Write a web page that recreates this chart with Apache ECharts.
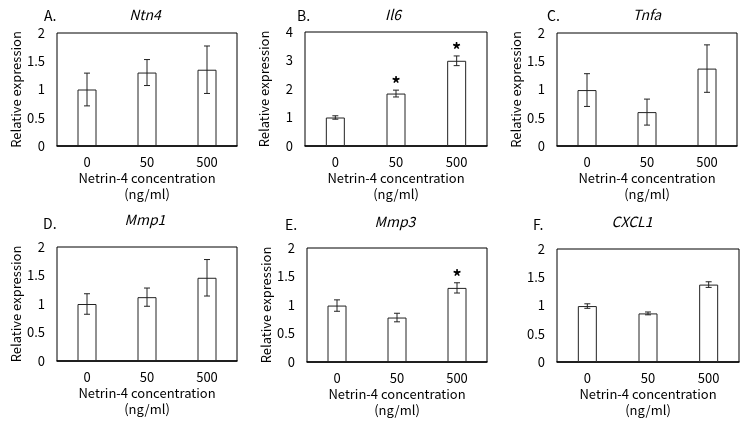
<!DOCTYPE html>
<html>
<head>
<meta charset="utf-8">
<script src="https://cdn.jsdelivr.net/npm/echarts@6/dist/echarts.min.js"></script>
<style>
  html, body { margin: 0; padding: 0; background: #fff; }
  #chart { width: 750px; height: 425px; }
</style>
</head>
<body>
<div id="chart"></div>
<script>
// concentrations (ng/ml)
const categories = ['0', '50', '500']

// mean relative expression and error per gene
const ntn4Mean = [1.0, 1.30, 1.35]
const ntn4Err = [0.29, 0.23, 0.42]
const il6Mean = [1.0, 1.84, 2.99]
const il6Err = [0.06, 0.12, 0.17]
const tnfaMean = [0.99, 0.60, 1.37]
const tnfaErr = [0.29, 0.23, 0.42]
const mmp1Mean = [1.0, 1.12, 1.46]
const mmp1Err = [0.18, 0.16, 0.32]
const mmp3Mean = [0.99, 0.78, 1.30]
const mmp3Err = [0.10, 0.075, 0.09]
const cxcl1Mean = [0.99, 0.86, 1.37]
const cxcl1Err = [0.04, 0.025, 0.05]

// significance marks (*)
const il6Sig = [false, true, true]
const mmp3Sig = [false, false, true]
const noSig = [false, false, false]

// y axis ticks
const yMax2 = 2
const yStep2 = 0.5
const yMax4 = 4
const yStep4 = 1

const FONT = '"Noto Sans CJK JP", "Noto Sans", sans-serif'

const panels = [
  {letter: 'A.', gene: 'Ntn4', mean: ntn4Mean, err: ntn4Err, sig: noSig, max: yMax2, step: yStep2,
    grid: {left: 57, top: 33, width: 180, height: 113}, letterPos: [44, 16], genePos: [145, 15], yName: true},
  {letter: 'B.', gene: 'Il6', mean: il6Mean, err: il6Err, sig: il6Sig, max: yMax4, step: yStep4,
    grid: {left: 305, top: 32, width: 182, height: 114}, letterPos: [297, 16], genePos: [393, 15], yName: true},
  {letter: 'C.', gene: 'Tnfa', mean: tnfaMean, err: tnfaErr, sig: noSig, max: yMax2, step: yStep2,
    grid: {left: 557, top: 33, width: 180, height: 113}, letterPos: [547, 16], genePos: [647, 15], yName: true},
  {letter: 'D.', gene: 'Mmp1', mean: mmp1Mean, err: mmp1Err, sig: noSig, max: yMax2, step: yStep2,
    grid: {left: 57, top: 247, width: 180, height: 114}, letterPos: [43, 224], genePos: [145, 220], yName: true},
  {letter: 'E.', gene: 'Mmp3', mean: mmp3Mean, err: mmp3Err, sig: mmp3Sig, max: yMax2, step: yStep2,
    grid: {left: 307, top: 248, width: 180, height: 114}, letterPos: [285, 225], genePos: [395, 222], yName: true},
  {letter: 'F.', gene: 'CXCL1', mean: cxcl1Mean, err: cxcl1Err, sig: noSig, max: yMax2, step: yStep2,
    grid: {left: 557, top: 249, width: 182, height: 113}, letterPos: [533, 225], genePos: [632, 222], yName: false}
]

const renderError = (params, api) => {
  const idx = api.value(0)
  const m = api.value(1)
  const e = api.value(2)
  const sig = api.value(3)
  const hi = api.coord([idx, m + e])
  const lo = api.coord([idx, m - e])
  const cap = 3
  const style = {stroke: '#222', lineWidth: 1}
  const children = [
    {type: 'line', shape: {x1: hi[0], y1: hi[1], x2: lo[0], y2: lo[1]}, style},
    {type: 'line', shape: {x1: hi[0] - cap, y1: hi[1], x2: hi[0] + cap, y2: hi[1]}, style},
    {type: 'line', shape: {x1: lo[0] - cap, y1: lo[1], x2: lo[0] + cap, y2: lo[1]}, style}
  ]
  if (sig) {
    children.push({
      type: 'text',
      style: {x: hi[0], y: hi[1] + 3, text: '*', fill: '#000', font: 'bold 18px ' + FONT,
        textAlign: 'center', textVerticalAlign: 'bottom'}
    })
  }
  return {type: 'group', children}
}

const grid = []
const xAxis = []
const yAxis = []
const series = []
const graphic = []

panels.forEach((p, i) => {
  grid.push(Object.assign({show: true, borderColor: '#000', borderWidth: 1, backgroundColor: '#fff'}, p.grid))
  xAxis.push({
    type: 'category',
    gridIndex: i,
    data: categories,
    axisLine: {lineStyle: {color: '#000', width: 1.5}},
    axisTick: {show: false},
    axisLabel: {color: '#000', fontSize: 13, fontFamily: FONT, margin: 10},
    name: 'Netrin-4 concentration\n(ng/ml)',
    nameLocation: 'middle',
    nameGap: 24,
    nameTextStyle: {color: '#000', fontSize: 13, fontFamily: FONT, lineHeight: 16, verticalAlign: 'top'}
  })
  yAxis.push({
    type: 'value',
    gridIndex: i,
    min: 0,
    max: p.max,
    interval: p.step,
    splitLine: {show: false},
    axisLine: {show: false},
    axisTick: {show: false},
    axisLabel: {color: '#000', fontSize: 13, fontFamily: FONT, margin: 12},
    name: p.yName ? 'Relative expression' : '',
    nameLocation: 'middle',
    nameGap: 34,
    nameTextStyle: {color: '#000', fontSize: 13, fontFamily: FONT}
  })
  series.push({
    type: 'bar',
    xAxisIndex: i,
    yAxisIndex: i,
    data: p.mean,
    barWidth: 19,
    itemStyle: {color: '#fff', borderColor: '#222', borderWidth: 1},
    silent: true
  })
  series.push({
    type: 'custom',
    xAxisIndex: i,
    yAxisIndex: i,
    renderItem: renderError,
    encode: {x: 0, y: 1},
    data: p.mean.map((m, k) => [k, m, p.err[k], p.sig[k] ? 1 : 0]),
    z: 10,
    silent: true
  })
  graphic.push({
    type: 'text', x: p.letterPos[0], y: p.letterPos[1],
    style: {text: p.letter, fill: '#000', font: '14px ' + FONT, textVerticalAlign: 'middle'}
  })
  graphic.push({
    type: 'text', x: p.genePos[0], y: p.genePos[1],
    style: {text: p.gene, fill: '#000', font: 'italic 14px ' + FONT, textAlign: 'center', textVerticalAlign: 'middle'}
  })
})

const chart = echarts.init(document.getElementById('chart'))
chart.setOption({
  animation: false,
  backgroundColor: '#fff',
  grid,
  xAxis,
  yAxis,
  series,
  graphic
})
</script>
</body>
</html>
